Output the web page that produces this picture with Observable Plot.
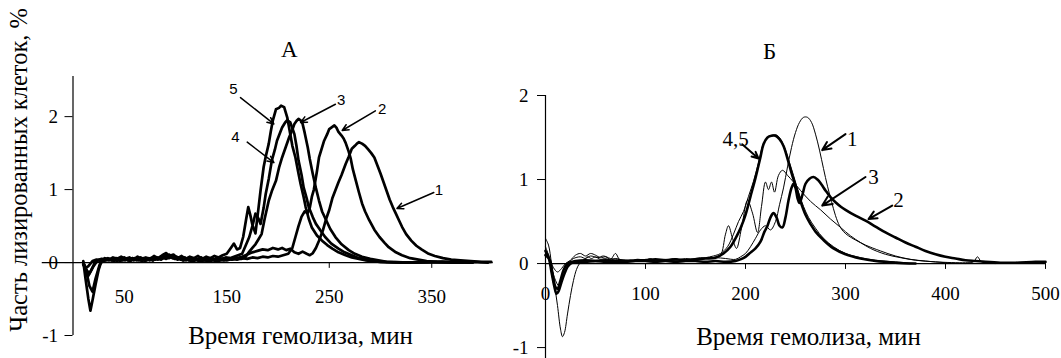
<!DOCTYPE html>
<html><head><meta charset="utf-8">
<script src="https://cdn.jsdelivr.net/npm/d3@7"></script>
<script src="https://cdn.jsdelivr.net/npm/@observablehq/plot@0.6"></script>
<style>
body{margin:0;background:#fff}
#wrap{position:relative;width:1061px;height:358px;overflow:hidden;background:#fff}
#wrap svg{position:absolute;top:0}
#wrap svg text{font-family:"Liberation Serif","Times New Roman",Times,"DejaVu Serif",serif}
#wrap svg g.sanslbl text{font-family:"Liberation Sans",Arial,sans-serif}
</style>
</head><body><div id="wrap"></div>
<script>
// ---------- Panel А (time, % lysed) ----------
const a1 = [[10,0.0],[12,-0.08],[15,-0.05],[19,0.02],[23,0.04],[27,0.02],[31,0.05],[35,0.03],[39,0.05],[43,0.02],[47,0.05],[51,0.03],[55,0.06],[59,0.03],[63,0.05],[67,0.02],[71,0.05],[75,0.03],[79,0.06],[83,0.04],[87,0.07],[91,0.05],[95,0.08],[99,0.05],[103,0.07],[107,0.03],[111,0.05],[115,0.02],[119,0.04],[123,0.02],[127,0.04],[131,0.02],[135,0.04],[139,0.02],[143,0.04],[147,0.03],[151,0.05],[155,0.04],[160,0.06],[165,0.08],[170,0.11],[175,0.14],[180,0.16],[185,0.18],[190,0.17],[195,0.2],[200,0.18],[204,0.2],[208,0.17],[212,0.19],[216,0.14],[220,0.12],[224,0.15],[228,0.12],[231,0.1],[234,0.13],[237,0.2],[240,0.3],[244,0.45],[247,0.6],[250,0.72],[253,0.88],[256,0.99],[259,1.1],[262,1.2],[266,1.35],[269,1.45],[272,1.56],[275,1.6],[277,1.63],[279,1.65],[282,1.63],[285,1.6],[288,1.55],[291,1.5],[294,1.44],[297,1.33],[300,1.22],[303,1.1],[306,0.98],[309,0.86],[312,0.76],[315,0.67],[318,0.58],[321,0.49],[325,0.39],[330,0.3],[335,0.23],[340,0.18],[347,0.12],[353,0.09],[361,0.06],[369,0.04],[378,0.03],[388,0.02],[398,0.01],[408,0.01]];
const a2 = [[10,0.0],[12,-0.06],[15,-0.18],[18,-0.1],[22,0.02],[26,0.04],[30,0.02],[34,0.05],[38,0.03],[42,0.06],[46,0.02],[50,0.05],[54,0.03],[58,0.06],[62,0.03],[66,0.05],[70,0.02],[74,0.05],[78,0.03],[82,0.06],[86,0.04],[90,0.08],[94,0.06],[98,0.09],[102,0.04],[106,0.06],[110,0.03],[114,0.05],[118,0.02],[122,0.05],[126,0.02],[130,0.04],[134,0.02],[138,0.04],[142,0.02],[146,0.04],[150,0.03],[155,0.05],[160,0.04],[165,0.06],[170,0.05],[175,0.07],[180,0.06],[185,0.08],[190,0.07],[195,0.09],[200,0.08],[205,0.1],[210,0.12],[214,0.2],[217,0.35],[220,0.5],[223,0.63],[226,0.7],[229,0.68],[231,0.75],[233,0.9],[235,1.0],[238,1.25],[240,1.44],[243,1.58],[245,1.67],[248,1.76],[250,1.83],[253,1.86],[255,1.88],[257,1.85],[259,1.79],[262,1.74],[264,1.7],[266,1.64],[269,1.52],[271,1.42],[273,1.28],[276,1.12],[279,0.96],[282,0.81],[285,0.7],[289,0.58],[294,0.45],[299,0.35],[304,0.27],[308,0.21],[315,0.14],[321,0.1],[329,0.06],[337,0.04],[345,0.02],[355,0.01],[370,0.0],[390,0.01],[405,0.0]];
const a3 = [[10,-0.03],[13,-0.1],[16,-0.15],[20,-0.05],[24,0.03],[28,0.05],[32,0.03],[36,0.05],[40,0.02],[44,0.06],[48,0.03],[52,0.05],[56,0.02],[60,0.06],[64,0.03],[68,0.05],[72,0.03],[76,0.06],[80,0.04],[84,0.06],[88,0.09],[92,0.07],[96,0.1],[100,0.05],[104,0.07],[108,0.03],[112,0.06],[116,0.03],[120,0.05],[124,0.02],[128,0.05],[132,0.03],[136,0.05],[140,0.03],[144,0.05],[148,0.04],[152,0.06],[156,0.05],[160,0.06],[164,0.05],[168,0.07],[172,0.15],[175,0.2],[178,0.25],[181,0.32],[184,0.39],[187,0.6],[191,0.85],[194,0.98],[198,1.12],[201,1.3],[204,1.44],[208,1.6],[211,1.72],[214,1.82],[216,1.9],[218,1.94],[220,1.97],[222,1.95],[224,1.9],[226,1.78],[229,1.58],[231,1.42],[234,1.21],[237,1.02],[240,0.85],[243,0.7],[247,0.58],[251,0.46],[256,0.35],[262,0.25],[269,0.17],[275,0.12],[282,0.08],[290,0.05],[298,0.03],[306,0.01],[330,0.0],[360,0.01],[390,0.0]];
const a4 = [[10,0.0],[13,-0.12],[16,-0.32],[19,-0.4],[22,-0.22],[26,-0.03],[30,0.04],[34,0.06],[38,0.03],[42,0.06],[46,0.04],[50,0.07],[54,0.03],[58,0.06],[62,0.04],[66,0.07],[70,0.04],[74,0.06],[78,0.03],[82,0.07],[86,0.05],[90,0.08],[94,0.11],[97,0.06],[101,0.08],[105,0.04],[109,0.07],[113,0.03],[117,0.06],[121,0.04],[125,0.07],[129,0.03],[133,0.06],[137,0.04],[141,0.07],[145,0.05],[149,0.07],[153,0.06],[157,0.08],[161,0.1],[165,0.12],[169,0.25],[172,0.35],[175,0.5],[178,0.67],[181,0.6],[183,0.53],[186,0.75],[188,0.94],[191,1.15],[194,1.4],[197,1.55],[199,1.67],[202,1.78],[204,1.85],[207,1.92],[209,1.95],[212,1.92],[214,1.84],[216,1.76],[218,1.6],[220,1.4],[223,1.2],[225,1.03],[228,0.88],[230,0.76],[234,0.62],[237,0.53],[242,0.43],[246,0.35],[252,0.26],[259,0.19],[265,0.14],[272,0.1],[279,0.06],[285,0.04],[292,0.02],[300,0.01],[330,0.0],[360,0.01],[390,0.0]];
const a5 = [[10,0.02],[12,-0.2],[15,-0.5],[17,-0.66],[19,-0.52],[22,-0.3],[25,-0.1],[28,0.03],[31,0.06],[35,0.04],[39,0.07],[43,0.05],[47,0.08],[51,0.05],[55,0.07],[59,0.04],[63,0.08],[67,0.05],[71,0.07],[75,0.05],[79,0.09],[83,0.06],[87,0.1],[91,0.13],[94,0.08],[98,0.11],[102,0.06],[106,0.09],[110,0.05],[114,0.08],[118,0.06],[122,0.09],[126,0.05],[130,0.08],[134,0.06],[138,0.09],[142,0.07],[146,0.1],[150,0.12],[154,0.2],[157,0.26],[160,0.18],[163,0.2],[166,0.35],[169,0.6],[171,0.76],[173,0.65],[175,0.52],[178,0.4],[181,0.75],[183,0.99],[186,1.31],[188,1.45],[191,1.63],[193,1.8],[195,1.95],[198,2.1],[201,2.12],[203,2.15],[206,2.13],[209,1.99],[212,1.76],[214,1.6],[217,1.44],[220,1.22],[222,1.08],[225,0.9],[227,0.76],[230,0.6],[233,0.48],[238,0.37],[243,0.3],[248,0.24],[253,0.19],[259,0.14],[266,0.1],[272,0.07],[279,0.05],[286,0.03],[292,0.02],[300,0.01],[320,0.0],[350,0.01],[380,0.0]];
const aTicksY = [-1, 0, 1, 2];
const aTicksX = [50, 150, 250, 350];
const aTickMarksX = [250, 350];
const aLabels = [{t:156.6,v:2.38,txt:"5"},{t:261.6,v:2.22,txt:"3"},{t:301.6,v:2.1,txt:"2"},{t:158.5,v:1.72,txt:"4"},{t:357,v:0.99,txt:"1"}];
const aArrows = [{t1:163.4,v1:2.26,t2:195.9,v2:1.9},{t1:256,v1:2.17,t2:222,v2:1.92},{t1:295,v1:2.08,t2:262.6,v2:1.81},{t1:170,v1:1.65,t2:196,v2:1.37},{t1:352,v1:0.96,t2:316,v2:0.74}];

// ---------- Panel Б ----------
const b1 = [[0,0.3],[3,0.22],[6,0.0],[9,-0.25],[12,-0.5],[15,-0.78],[17,-0.87],[19,-0.82],[22,-0.6],[25,-0.38],[28,-0.2],[31,-0.07],[34,0.0],[38,0.04],[42,0.08],[46,0.06],[50,0.08],[55,0.05],[60,0.06],[65,0.04],[70,0.06],[80,0.03],[90,0.04],[100,0.03],[110,0.04],[120,0.03],[130,0.05],[140,0.04],[150,0.05],[160,0.06],[170,0.07],[180,0.06],[190,0.05],[195,0.08],[200,0.12],[205,0.2],[210,0.3],[215,0.4],[220,0.45],[225,0.4],[230,0.5],[234,0.7],[238,0.9],[242,1.15],[246,1.38],[250,1.56],[254,1.68],[258,1.74],[262,1.74],[266,1.68],[270,1.54],[274,1.35],[278,1.13],[282,0.92],[286,0.74],[290,0.57],[294,0.45],[298,0.38],[303,0.33],[310,0.28],[320,0.22],[335,0.15],[350,0.09],[365,0.05],[380,0.03],[400,0.01],[420,0.0]];
const b2 = [[0,0.15],[3,0.08],[6,-0.1],[9,-0.28],[11,-0.36],[13,-0.33],[16,-0.22],[19,-0.12],[22,-0.04],[25,0.0],[30,0.02],[40,0.02],[50,0.03],[60,0.02],[70,0.02],[80,0.02],[90,0.03],[100,0.03],[110,0.02],[120,0.03],[130,0.02],[140,0.03],[150,0.03],[160,0.02],[170,0.03],[180,0.02],[190,0.03],[195,0.05],[200,0.08],[205,0.13],[210,0.18],[215,0.26],[219,0.38],[222,0.45],[225,0.55],[228,0.6],[231,0.55],[234,0.45],[237,0.43],[240,0.55],[243,0.75],[246,0.9],[248,0.95],[250,0.9],[252,0.78],[254,0.72],[257,0.82],[260,0.95],[264,1.01],[268,1.03],[272,1.0],[276,0.94],[280,0.87],[285,0.79],[290,0.73],[295,0.68],[300,0.64],[310,0.57],[320,0.51],[330,0.44],[340,0.37],[350,0.31],[360,0.25],[370,0.2],[380,0.15],[390,0.11],[400,0.08],[410,0.06],[420,0.04],[430,0.03],[440,0.02],[455,0.01],[470,0.01],[490,0.02],[500,0.02]];
const b3 = [[0,0.1],[4,0.05],[8,-0.05],[12,-0.1],[16,-0.06],[20,0.0],[25,0.04],[30,0.1],[35,0.12],[40,0.09],[45,0.12],[50,0.1],[55,0.07],[60,0.08],[65,0.05],[70,0.12],[74,0.05],[80,0.04],[90,0.03],[100,0.04],[105,0.06],[110,0.03],[120,0.04],[130,0.06],[135,0.04],[145,0.05],[155,0.07],[165,0.06],[170,0.08],[175,0.1],[180,0.35],[183,0.45],[187,0.3],[191,0.18],[196,0.42],[202,0.75],[207,0.6],[212,0.37],[216,0.68],[220,0.97],[223,0.88],[226,0.97],[229,0.85],[233,1.05],[237,1.11],[242,1.05],[248,0.97],[255,0.87],[265,0.74],[275,0.64],[285,0.53],[295,0.43],[305,0.33],[315,0.25],[325,0.18],[340,0.11],[355,0.07],[370,0.04],[390,0.02],[420,0.01],[428,0.02],[432,0.08],[436,0.02],[450,0.0]];
const b4 = [[0,0.1],[4,0.05],[7,-0.12],[10,-0.28],[12,-0.3],[15,-0.2],[18,-0.08],[22,0.0],[30,0.03],[40,0.04],[50,0.03],[60,0.04],[70,0.03],[80,0.03],[90,0.04],[100,0.04],[110,0.05],[120,0.04],[130,0.05],[140,0.04],[150,0.05],[160,0.06],[170,0.07],[178,0.12],[185,0.2],[190,0.3],[195,0.42],[200,0.58],[205,0.8],[210,1.02],[215,1.27],[218,1.42],[222,1.5],[226,1.52],[230,1.52],[234,1.48],[238,1.4],[242,1.25],[246,1.08],[250,0.93],[255,0.74],[260,0.58],[265,0.47],[270,0.38],[278,0.28],[288,0.18],[300,0.11],[315,0.06],[330,0.03],[350,0.01],[370,0.0]];
const b5 = [[0,0.2],[3,0.1],[6,-0.05],[10,-0.2],[13,-0.26],[16,-0.2],[20,-0.08],[24,0.02],[28,0.06],[35,0.08],[40,0.06],[45,0.09],[52,0.07],[58,0.09],[65,0.06],[72,0.05],[80,0.04],[90,0.03],[100,0.05],[110,0.04],[120,0.05],[130,0.04],[140,0.06],[150,0.05],[160,0.07],[168,0.09],[175,0.12],[182,0.2],[188,0.35],[193,0.5],[198,0.62],[203,0.8],[208,0.98],[213,1.2],[218,1.43],[222,1.5],[227,1.53],[231,1.53],[235,1.48],[240,1.35],[244,1.2],[248,1.05],[253,0.85],[258,0.68],[263,0.55],[270,0.42],[278,0.3],[288,0.2],[300,0.12],[315,0.07],[330,0.04],[350,0.02],[370,0.0]];
const bTicksY = [-1, 0, 1, 2];
const bTicksX = [0, 100, 200, 300, 400, 500];
const bLabels = [{t:190,v:1.48,txt:"4,5"},{t:306.7,v:1.48,txt:"1"},{t:328,v:1.03,txt:"3"},{t:353,v:0.75,txt:"2"}];
const bArrows = [{t1:196.7,v1:1.42,t2:213,v2:1.25},{t1:300,v1:1.54,t2:276.7,v2:1.35},{t1:320,v1:1.03,t2:276.7,v2:0.69},{t1:346.7,v1:0.69,t2:323,v2:0.53}];

const yTitle = "Часть лизированных клеток, %";
const xTitle = "Время гемолиза, мин";

const rows = (pts) => pts.map(([t, v]) => ({t, v}));
const baseStyle = "font-size: 19px; color: black; background: transparent; overflow: visible;";

const plotA = Plot.plot({
  width: 500, height: 358,
  marginLeft: 72.5, marginRight: 7.25, marginTop: 76, marginBottom: 23,
  x: {domain: [0, 410], axis: null},
  y: {domain: [-1, 2.55], label: null},
  style: baseStyle,
  marks: [
    Plot.ruleX([0], {y1: -1, y2: 2.55, strokeWidth: 1.2}),
    Plot.axisY(aTicksY, {tickSize: 8, tickPadding: 7, tickFormat: d => String(d), label: null, fontSize: 19}),
    Plot.ruleY([0], {x1: -30, x2: 410, strokeWidth: 1.2}),
    Plot.ruleX(aTickMarksX, {x: d => d, y1: 0, y2: -0.08}),
    Plot.text(aTicksX, {x: d => d, y: 0, dy: 34, text: d => String(d), fontSize: 19}),
    ...[a1, a2, a3, a4, a5].map(s => Plot.line(rows(s), {x: "t", y: "v", stroke: "black", strokeWidth: 2.7, strokeLinejoin: "round"})),
    Plot.arrow(aArrows, {x1: "t1", y1: "v1", x2: "t2", y2: "v2", stroke: "black", strokeWidth: 1.5, headLength: 7, headAngle: 50}),
    Plot.text(aLabels, {x: "t", y: "v", text: "txt", fontSize: 15, className: "sanslbl"}),
    Plot.text(["А"], {x: 211, y: 2.92, text: d => d, fontSize: 23}),
    Plot.text([yTitle], {x: -52.2, y: 1.27, text: d => d, rotate: -90, fontSize: 24.5}),
    Plot.text([xTitle], {x: 222, y: -1.0, text: d => d, fontSize: 25})
  ]
});

const plotB = Plot.plot({
  width: 561, height: 358,
  marginLeft: 45, marginRight: 16, marginTop: 95, marginBottom: 0,
  x: {domain: [0, 500], axis: null},
  y: {domain: [-1.13, 2], label: null},
  style: baseStyle,
  marks: [
    Plot.ruleX([0], {y1: -1.13, y2: 2, strokeWidth: 1.2}),
    Plot.axisY(bTicksY, {tickSize: 8, tickPadding: 9, tickFormat: d => String(d), label: null, fontSize: 19}),
    Plot.ruleY([0], {x1: 0, x2: 500, strokeWidth: 1.2}),
    Plot.ruleX(bTicksX.slice(1), {x: d => d, y1: 0, y2: -0.07}),
    Plot.text(bTicksX, {x: d => d, y: 0, dy: 30, text: d => String(d), fontSize: 19}),
    ...[[b1, 1], [b3, 1], [b5, 1], [b4, 2.6], [b2, 2.6]].map(([s, w]) => Plot.line(rows(s), {x: "t", y: "v", stroke: "black", strokeWidth: w, curve: "catmull-rom"})),
    Plot.arrow(bArrows, {x1: "t1", y1: "v1", x2: "t2", y2: "v2", stroke: "black", strokeWidth: 2, headLength: 8, headAngle: 50}),
    Plot.text(bLabels, {x: "t", y: "v", text: "txt", fontSize: 21}),
    Plot.text(["Б"], {x: 224, y: 2.52, text: d => d, fontSize: 23}),
    Plot.text([xTitle], {x: 263, y: -0.87, text: d => d, fontSize: 25})
  ]
});

const wrap = document.getElementById("wrap");
plotA.style.left = "0px";
plotB.style.left = "500px";
wrap.appendChild(plotA);
wrap.appendChild(plotB);
</script>
</body></html>
